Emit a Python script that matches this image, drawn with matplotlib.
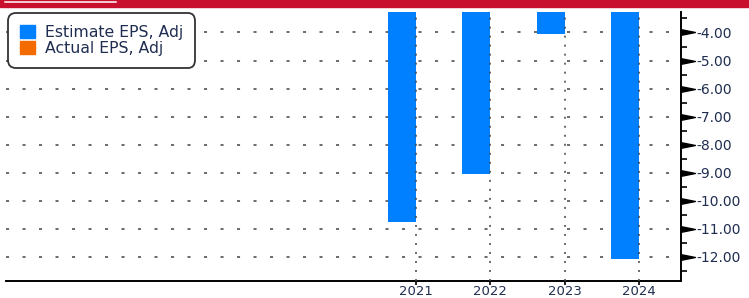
import numpy as np
import matplotlib
matplotlib.use("Agg")
import matplotlib.pyplot as plt
from matplotlib.path import Path
from matplotlib.lines import Line2D
from matplotlib.patches import Rectangle, Patch
from matplotlib.ticker import MultipleLocator, FixedLocator

# data
years = [2021, 2022, 2023, 2024]
estimate_eps = [-10.75, -9.05, -4.05, -12.07]
actual_eps = [np.nan, np.nan, np.nan, np.nan]
yticks = [-4, -5, -6, -7, -8, -9, -10, -11, -12]

blue = "#0080ff"
orange = "#f26a00"
navy = "#1f2d50"
W, H = 749, 298

fig = plt.figure(figsize=(W / 100, H / 100), dpi=100)
ax = fig.add_axes([6 / W, 17 / H, (681 - 6) / W, (281 - 12) / H])

top = -3.27
bottom = -12.86
# bars hang down from the top of the plot, left of the period tick
ax.bar(years, np.array(estimate_eps) - top, bottom=top, width=-0.377,
       align="edge", color=blue, label="Estimate EPS, Adj", zorder=2)
ax.bar(years, np.array(actual_eps) - top, bottom=top, width=-0.377,
       align="edge", color=orange, label="Actual EPS, Adj", zorder=2)

ax.set_xlim(2015.48, 2024.565)
ax.set_ylim(bottom, top)

# grid
for y in yticks:
    ax.axhline(y, color="#444444", lw=1.1, dashes=(2.0, 8.8), zorder=1)
for x in years:
    ax.axvline(x, color="#444444", lw=1.1, dashes=(1.3, 4.6), zorder=3)

# spines
for s in ["left", "top"]:
    ax.spines[s].set_visible(False)
ax.spines["right"].set_linewidth(1.4)
ax.spines["bottom"].set_linewidth(1.4)

# y axis on the right
ax.yaxis.tick_right()
ax.yaxis.set_major_locator(FixedLocator(yticks))
ax.yaxis.set_minor_locator(MultipleLocator(0.5))
ax.set_yticklabels([f"-{abs(v):.2f}" for v in yticks])
ax.tick_params(axis="y", which="major", length=0, pad=11, labelsize=10,
               labelcolor=navy)
ax.tick_params(axis="y", which="minor", length=4, width=1.2, color="black",
               direction="out")

tri = Path([(0, -0.2), (1, 0), (0, 0.2), (0, -0.2)],
           [Path.MOVETO, Path.LINETO, Path.LINETO, Path.CLOSEPOLY])
ax.plot([1.0] * len(yticks), yticks, linestyle="none", marker=tri,
        markersize=20, color="black", transform=ax.get_yaxis_transform(),
        clip_on=False, zorder=5)

# x axis
ax.set_xticks(years)
ax.set_xticklabels([str(y) for y in years])
ax.tick_params(axis="x", length=3, width=1.2, pad=0, labelsize=9.5,
               labelcolor=navy)

leg = ax.legend(handles=[Patch(color=blue), Patch(color=orange)],
                labels=["Estimate EPS, Adj", "Actual EPS, Adj"],
                loc="upper left", bbox_to_anchor=(0.0015, 1.0),
                fontsize=11.3, frameon=True, fancybox=True, framealpha=1,
                edgecolor="#333333", handlelength=1.0, handleheight=0.9,
                handletextpad=0.65, labelspacing=0.08, borderpad=0.75,
                borderaxespad=0.05)
leg.get_frame().set_linewidth(1.3)
leg.get_frame().set_boxstyle("round,pad=0.,rounding_size=0.5")
for t in leg.get_texts():
    t.set_color(navy)

# red banner on top
fig.patches.append(Rectangle((0, 1 - 7 / H), 1, 7 / H, transform=fig.transFigure,
                             color="#c8102e", zorder=10))
fig.add_artist(Line2D([5 / W, 116 / W], [1 - 1.8 / H] * 2, color="white",
                      lw=1.1, transform=fig.transFigure, zorder=11))

fig.savefig("out.png", dpi=100)
